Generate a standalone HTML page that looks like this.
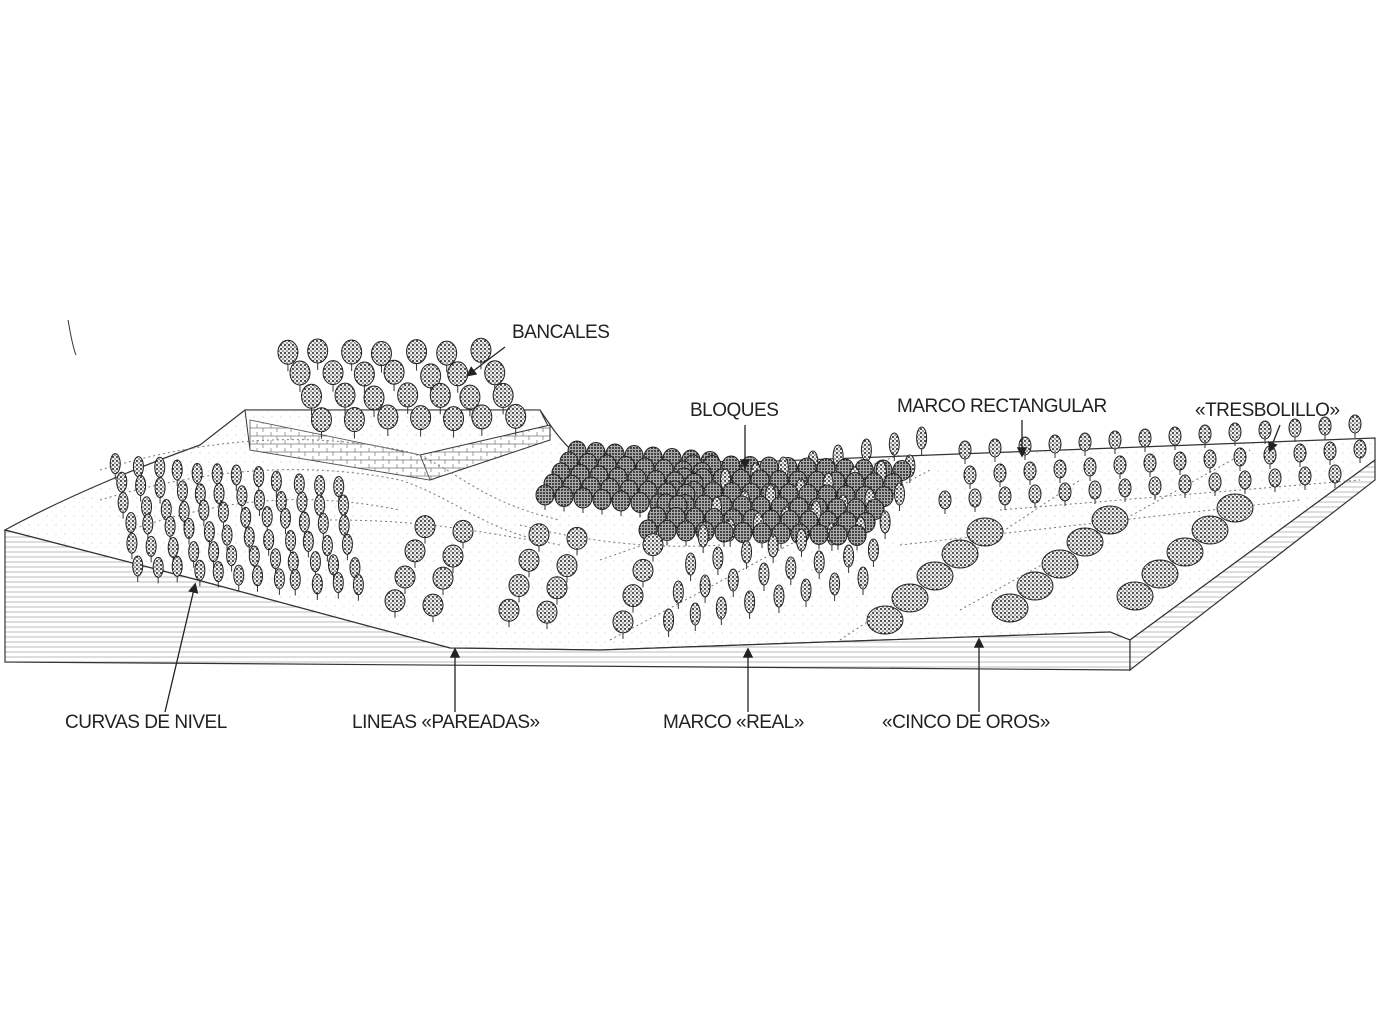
<!DOCTYPE html>
<html><head><meta charset="utf-8">
<style>
html,body{margin:0;padding:0;background:#fff;}
svg{display:block}
text{font-family:"Liberation Sans",sans-serif;font-size:19px;fill:#222;letter-spacing:-0.5px}
</style></head>
<body>
<svg id="s" width="1380" height="1035" viewBox="0 0 1380 1035" xmlns="http://www.w3.org/2000/svg">
<defs>
<pattern id="dots" width="4" height="4" patternUnits="userSpaceOnUse">
<rect width="4" height="4" fill="#eee"/>
<circle cx="1" cy="1" r="1" fill="#222"/>
<circle cx="3" cy="3" r="0.8" fill="#444"/>
</pattern>
<pattern id="dark" width="3" height="3" patternUnits="userSpaceOnUse">
<rect width="3" height="3" fill="#aaa"/>
<circle cx="1" cy="1" r="1" fill="#222"/>
</pattern>
<pattern id="hatch" width="8" height="5" patternUnits="userSpaceOnUse">
<rect width="8" height="5" fill="#fff"/>
<line x1="0" y1="2" x2="8" y2="2" stroke="#aaa" stroke-width="0.8"/>
</pattern>
<pattern id="stone" width="14" height="8" patternUnits="userSpaceOnUse">
<rect width="14" height="8" fill="#fff"/>
<path d="M0,4 H14 M5,0 V4 M11,4 V8" stroke="#777" stroke-width="0.7"/>
</pattern>
<pattern id="ground" width="9" height="9" patternUnits="userSpaceOnUse">
<rect width="9" height="9" fill="#fff"/>
<circle cx="2" cy="3" r="0.5" fill="#aaa"/>
<circle cx="7" cy="7" r="0.4" fill="#bbb"/>
</pattern>
<marker id="ar" markerWidth="8" markerHeight="8" refX="6" refY="4" orient="auto">
<path d="M0,0 L8,4 L0,8 z" fill="#222"/>
</marker>
</defs>
<path d="M5,530 C60,500 130,470 200,445 L245,410 L540,410 C560,440 580,470 620,468 C660,466 700,460 750,462 L1375,438 L1375,460 L1130,640 L1110,632 L600,650 L450,648 L190,578 Z" fill="url(#ground)" stroke="#333" stroke-width="1.2"/>
<path d="M5,530 L190,578 L450,648 L600,650 L1110,632 L1130,640 L1130,670 L5,662 Z" fill="url(#hatch)" stroke="#333" stroke-width="1.2"/>
<path d="M1130,640 L1375,460 L1375,480 L1130,670 Z" fill="url(#hatch)" stroke="#333" stroke-width="1.2"/>
<path d="M245,410 L540,410 L550,430 L430,480 L250,450 Z" fill="url(#ground)" stroke="#333"/>
<path d="M420,455 L550,425 L550,440 L430,480 Z" fill="url(#stone)" stroke="#333"/>
<path d="M250,420 L420,455 L430,480 L250,450 Z" fill="url(#stone)" stroke="#555" stroke-width="0.8"/>
<g fill="none" stroke="#777" stroke-dasharray="2,3">
<path d="M100,470 C200,440 300,430 400,450 C450,460 470,500 560,520"/>
<path d="M100,500 C200,470 300,460 400,480 C460,500 480,530 560,545"/>
<path d="M130,530 C220,500 300,490 400,510"/>
<path d="M330,520 C420,520 470,530 530,540"/>
<path d="M520,525 C580,540 650,550 720,545"/>
<path d="M600,560 L900,455"/><path d="M610,640 L930,470"/>
<path d="M840,640 L1080,480"/><path d="M960,610 L1250,450"/>
<path d="M1000,510 L1360,480"/><path d="M900,545 L1300,500"/>
</g>
<g id="trees"></g>
<g fill="none" stroke="#222" stroke-width="1.3" marker-end="url(#ar)">
<line x1="505" y1="347" x2="468" y2="375"/>
<line x1="745" y1="425" x2="745" y2="467"/>
<line x1="1022" y1="420" x2="1022" y2="455"/>
<line x1="1280" y1="425" x2="1270" y2="450"/>
<line x1="165" y1="712" x2="195" y2="585"/>
<line x1="455" y1="712" x2="455" y2="650"/>
<line x1="748" y1="712" x2="748" y2="650"/>
<line x1="979" y1="712" x2="979" y2="640"/>
</g>
<path d="M68,320 C70,330 72,345 76,355" stroke="#333" fill="none"/>
<text x="512" y="338">BANCALES</text>
<text x="690" y="416">BLOQUES</text>
<text x="897" y="412">MARCO RECTANGULAR</text>
<text x="1195" y="416">«TRESBOLILLO»</text>
<text x="65" y="728">CURVAS DE NIVEL</text>
<text x="352" y="728">LINEAS «PAREADAS»</text>
<text x="663" y="728">MARCO «REAL»</text>
<text x="882" y="728">«CINCO DE OROS»</text>
</svg>
<script>
var g=document.getElementById('trees'),ns='http://www.w3.org/2000/svg',out=[];
var seed=7;function r(){seed=(seed*9301+49297)%233280;return seed/233280;}
function tree(x,y,rx,ry,fill,trunk){out.push({x:x,y:y,rx:rx,ry:ry,f:fill,t:trunk});}
for(var i=0;i<4;i++)for(var j=0;j<7;j++){tree(285+j*32+i*12+r()*6,350+i*22+r()*4,10,12,'url(#dots)',7);}
for(var i=0;i<6;i++)for(var j=0;j<12;j++){tree(115+j*20+i*4+r()*5,462+i*20+j*2+r()*4,5,10,'url(#dots)',6);}
for(var i=0;i<4;i++)for(var j=0;j<7;j++){if(j%3==2)continue;tree(395+j*38+i*10,600-i*25+j*3+r()*4,10,11,'url(#dots)',6);}
for(var i=0;i<5;i++)for(var j=0;j<8;j++)tree(545+j*19+i*8,495-i*11+j*1.5,9,10,'url(#dark)',5);
for(var i=0;i<6;i++)for(var j=0;j<12;j++)tree(648+j*19+i*9,530-i*13+j*0.5,9,10,'url(#dark)',5);
for(var i=0;i<6;i++)for(var j=0;j<8;j++)tree(665+j*28+i*12+r()*4,620-i*28-j*6,5,11,'url(#dots)',6);
for(var i=0;i<3;i++)for(var j=0;j<5;j++){tree(885+i*125+j*25,620-j*22-i*12,18,14,'url(#dots)',0);}
for(var i=0;i<3;i++)for(var j=0;j<14;j++){tree(945+j*30+i*10+(i%2)*15,500-i*25-j*2,6,9,'url(#dots)',5);}
out.sort(function(a,b){return a.y-b.y;});
out.forEach(function(t){
 if(t.t){var l=document.createElementNS(ns,'line');l.setAttribute('x1',t.x);l.setAttribute('x2',t.x);l.setAttribute('y1',t.y+t.ry-2);l.setAttribute('y2',t.y+t.ry+t.t);l.setAttribute('stroke','#333');g.appendChild(l);}
 var e=document.createElementNS(ns,'ellipse');e.setAttribute('cx',t.x);e.setAttribute('cy',t.y);e.setAttribute('rx',t.rx);e.setAttribute('ry',t.ry);e.setAttribute('fill',t.f);e.setAttribute('stroke','#222');e.setAttribute('stroke-width','1');g.appendChild(e);
});
</script>
</body></html>
